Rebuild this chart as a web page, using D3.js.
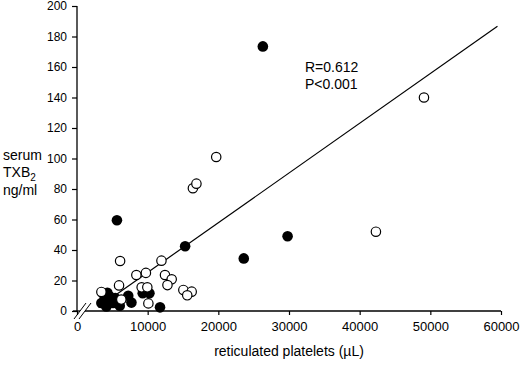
<!DOCTYPE html>
<html>
<head>
<meta charset="utf-8">
<script src="https://cdn.jsdelivr.net/npm/d3@7"></script>
<style>
  body { margin: 0; background: #fff; }
  svg text { font-family: "Liberation Sans", Arial, sans-serif; fill: #000; }
</style>
</head>
<body>
<div id="main"></div>
<script>
// --- data
// open circles
const openX = [49100, 42300, 19700, 16400, 16900, 11950, 6100, 8400, 9750, 12450, 13400,
  12800, 15050, 16230, 15600, 9150, 9950, 10100, 5950, 3450, 6270];
const openY = [140, 52, 101, 80.5, 83.5, 33, 32.8, 23.6, 25, 23.6, 20.8,
  17, 13.8, 12.7, 10.3, 15.5, 15.5, 5, 16.8, 12.5, 7.5];
// filled circles
const filledX = [26300, 29800, 23600, 15300, 5650, 11750, 9300, 10250, 7700, 7250,
  3700, 4600, 3450, 4150, 5100, 6050, 4300, 3900, 5400, 4700];
const filledY = [173.5, 49, 34.5, 42.5, 59.5, 2.4, 11.6, 11.6, 5.5, 10,
  11.5, 9.6, 5.2, 3, 5.2, 3.5, 12, 7.5, 8.5, 6];

// regression line (y = intercept + slope * x), drawn over fitRange
const fitSlope = 0.00326;
const fitIntercept = -7.3;
const fitRange = [3000, 59500];

const xTicks = [0, 10000, 20000, 30000, 40000, 50000, 60000];
const yTicks = [0, 20, 40, 60, 80, 100, 120, 140, 160, 180, 200];

// --- layout
const svgWidth = 520, svgHeight = 366;
const margin = { left: 77, right: 19, top: 6, bottom: 55 };
const chartWidth = svgWidth - margin.left - margin.right;
const chartHeight = svgHeight - margin.top - margin.bottom;

const svg = d3.select('#main')
  .append('svg')
  .attr('width', svgWidth)
  .attr('height', svgHeight);

const xScale = d3.scaleLinear().domain([0, 60000]).range([margin.left, margin.left + chartWidth]);
const yScale = d3.scaleLinear().domain([0, 200]).range([margin.top + chartHeight, margin.top]);

// y axis
const yAxis = svg.append('g')
  .attr('transform', `translate(${margin.left},0)`)
  .call(d3.axisLeft(yScale).tickValues(yTicks).tickSize(5).tickPadding(5).tickSizeOuter(0));
yAxis.selectAll('text').style('font-size', '12px');
yAxis.select('.domain').remove();
yAxis.selectAll('line').attr('stroke-width', 1.2);

// x axis
const xAxis = svg.append('g')
  .attr('transform', `translate(0,${yScale(0)})`)
  .call(d3.axisBottom(xScale).tickValues(xTicks).tickSize(4).tickPadding(7).tickSizeOuter(0)
    .tickFormat(d3.format('d')));
xAxis.selectAll('text').style('font-size', '13px');
xAxis.select('.domain').remove();
xAxis.selectAll('line').attr('stroke-width', 1.2);

const y0 = yScale(0);
const axisLine = (x1, y1, x2, y2) => svg.append('line')
  .attr('x1', x1).attr('y1', y1).attr('x2', x2).attr('y2', y2)
  .attr('stroke', '#000').attr('stroke-width', 1.3);

// axis lines with a break near the origin
axisLine(xScale(0), yScale(200), xScale(0), y0);
axisLine(xScale(0) - 4, y0, xScale(0) + 3, y0);
axisLine(xScale(0) + 8, y0, xScale(60000), y0);
axisLine(xScale(0) - 3, y0 + 8, xScale(0) + 9, y0 - 8).attr('stroke-width', 1);
axisLine(xScale(0) + 2, y0 + 8, xScale(0) + 14, y0 - 8).attr('stroke-width', 1);

// regression line
const line = d3.line()
  .x(d => xScale(d))
  .y(d => yScale(fitIntercept + fitSlope * d));
svg.append('path')
  .datum(fitRange)
  .attr('d', line)
  .attr('fill', 'none')
  .attr('stroke', '#000')
  .attr('stroke-width', 1.2);

// points
svg.selectAll('circle.filled')
  .data(d3.zip(filledX, filledY))
  .enter()
  .append('circle')
  .attr('class', 'filled')
  .attr('cx', d => xScale(d[0]))
  .attr('cy', d => yScale(d[1]))
  .attr('r', 5.3)
  .attr('fill', '#000');

svg.selectAll('circle.open')
  .data(d3.zip(openX, openY))
  .enter()
  .append('circle')
  .attr('class', 'open')
  .attr('cx', d => xScale(d[0]))
  .attr('cy', d => yScale(d[1]))
  .attr('r', 4.7)
  .attr('fill', '#fff')
  .attr('stroke', '#000')
  .attr('stroke-width', 1.2);

// annotations
svg.append('text').attr('x', 305).attr('y', 72).style('font-size', '14px').text('R=0.612');
svg.append('text').attr('x', 305).attr('y', 89).style('font-size', '14px').text('P<0.001');

// axis titles
svg.append('text')
  .attr('x', xScale(30000)).attr('y', 356)
  .attr('text-anchor', 'middle')
  .style('font-size', '14px')
  .text('reticulated platelets (\u00b5L)');

const yTitle = svg.append('g').style('font-size', '14px');
yTitle.append('text').attr('x', 3).attr('y', 160).text('serum');
const txb = yTitle.append('text').attr('x', 3).attr('y', 177);
txb.append('tspan').text('TXB');
txb.append('tspan').attr('dy', 4).style('font-size', '10px').text('2');
yTitle.append('text').attr('x', 3).attr('y', 195).text('ng/ml');
</script>
</body>
</html>
